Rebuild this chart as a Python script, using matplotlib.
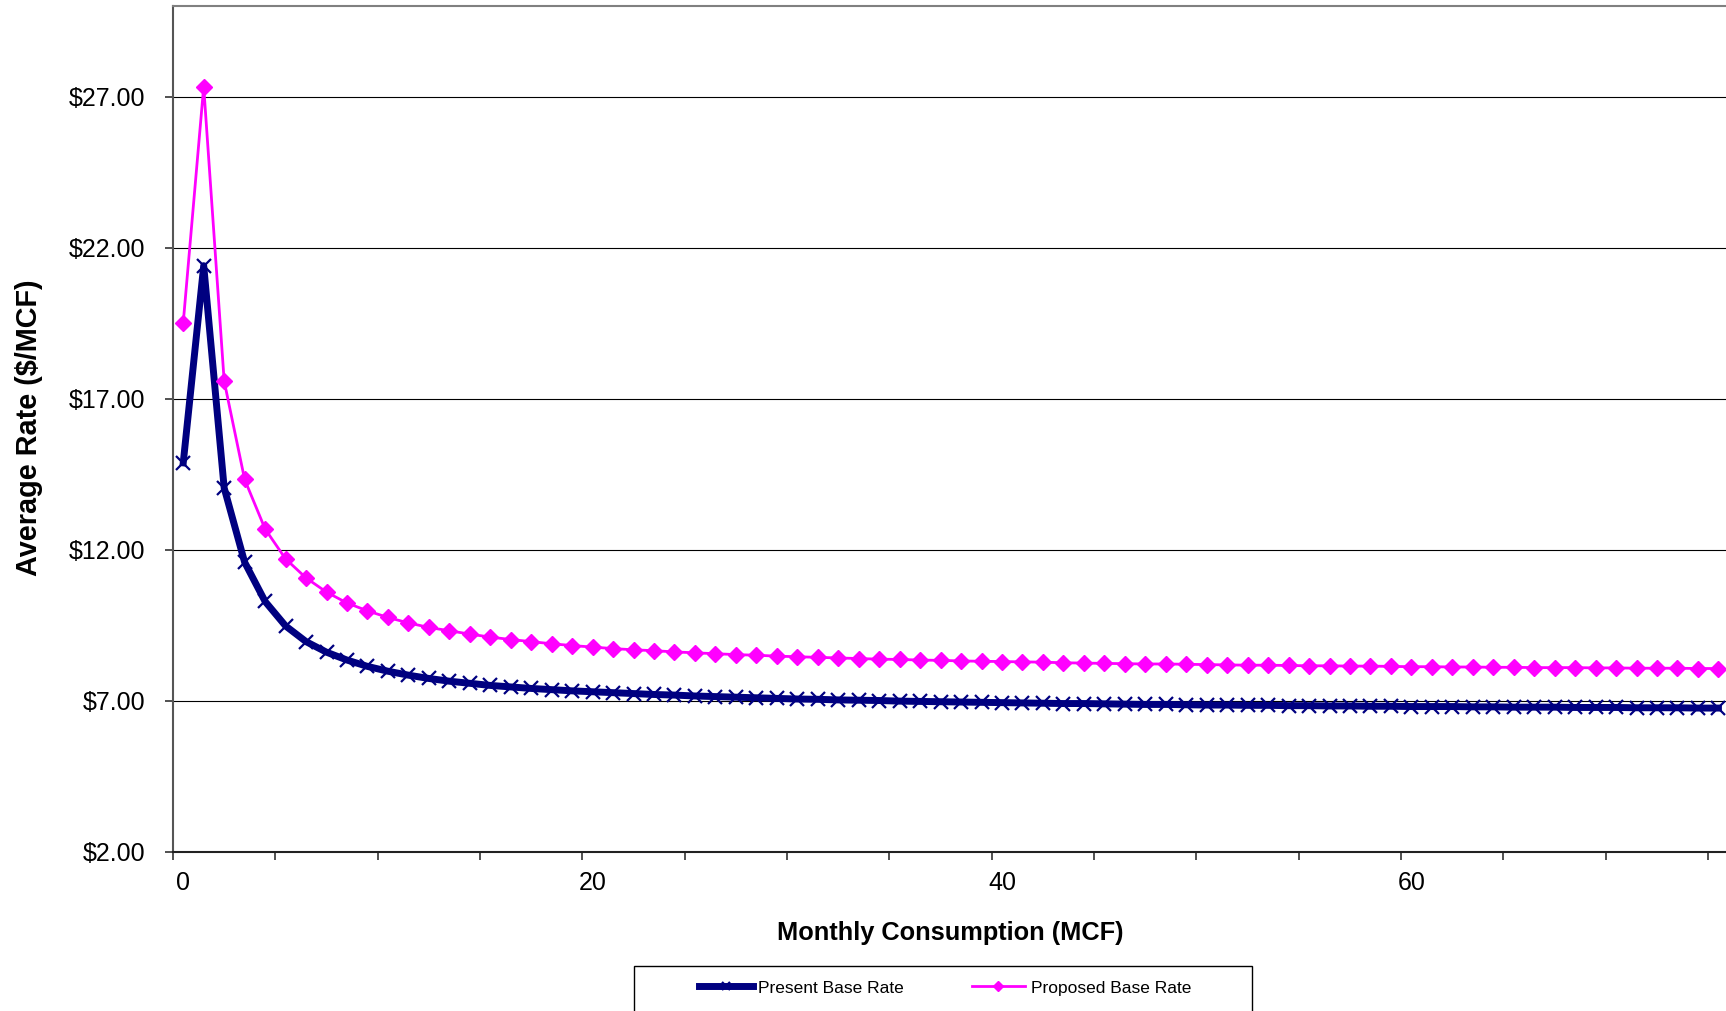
import numpy as np
import matplotlib
matplotlib.use('Agg')
import matplotlib.pyplot as plt
from matplotlib.patches import Rectangle

plt.rcParams['font.family'] = ['Liberation Sans', 'DejaVu Sans']

# monthly consumption categories (MCF), one point per MCF
consumption = np.arange(0, 76)

# average rate $/MCF
present_rate = [14.87, 21.40, 14.04, 11.58, 10.28, 9.47, 8.95, 8.60, 8.34, 8.13,
                7.97, 7.84, 7.73, 7.64, 7.57, 7.50, 7.45, 7.40, 7.36, 7.32,
                7.29, 7.26, 7.23, 7.20, 7.18, 7.15, 7.13, 7.11, 7.09, 7.07,
                7.05, 7.04, 7.02, 7.01, 7.00, 6.98, 6.97, 6.96, 6.95, 6.94,
                6.93, 6.92, 6.91, 6.90, 6.90, 6.89, 6.88, 6.87, 6.87, 6.86,
                6.85, 6.85, 6.84, 6.84, 6.83, 6.83, 6.82, 6.82, 6.81, 6.81,
                6.80, 6.80, 6.80, 6.79, 6.79, 6.78, 6.78, 6.78, 6.77, 6.77,
                6.77, 6.76, 6.76, 6.76, 6.75, 6.75]

proposed_rate = [19.51, 27.33, 17.58, 14.32, 12.68, 11.69, 11.06, 10.59, 10.23, 9.97,
                 9.75, 9.57, 9.42, 9.31, 9.20, 9.10, 9.02, 8.95, 8.88, 8.82,
                 8.77, 8.72, 8.68, 8.65, 8.61, 8.58, 8.55, 8.52, 8.50, 8.47,
                 8.45, 8.43, 8.41, 8.39, 8.37, 8.36, 8.34, 8.33, 8.31, 8.30,
                 8.29, 8.28, 8.27, 8.25, 8.24, 8.23, 8.22, 8.21, 8.21, 8.20,
                 8.19, 8.18, 8.17, 8.17, 8.16, 8.15, 8.15, 8.14, 8.14, 8.13,
                 8.12, 8.12, 8.11, 8.11, 8.10, 8.10, 8.09, 8.09, 8.09, 8.08,
                 8.08, 8.07, 8.07, 8.07, 8.06, 8.06]

x_labels = [0, 20, 40, 60]
y_ticks = [2, 7, 12, 17, 22, 27]

fig = plt.figure(figsize=(17.26, 10.11), dpi=100)
ax = fig.add_axes([173/1726, 1 - 851.5/1011, 1 - 173/1726, (851.5 - 6)/1011])

ax.plot(consumption, present_rate, color='#000080', lw=5, marker='x',
        ms=9.5, mew=1.6, label='Present Base Rate', zorder=3)
ax.plot(consumption, proposed_rate, color='#FF00FF', lw=2, marker='D',
        ms=8, label='Proposed Base Rate', zorder=4)

ax.set_xlim(-0.5, 75.37)
ax.set_ylim(2, 30)

# category style axis: labels on points, tick marks between groups of 5
ax.set_xticks(x_labels)
ax.set_xticks(np.arange(-0.5, 76, 5), minor=True)
ax.tick_params(axis='x', which='major', length=0, pad=14, labelsize=18)
ax.tick_params(axis='x', which='minor', length=6, width=1.2, direction='out', color='#333333')

ax.set_yticks(y_ticks)
ax.set_yticklabels(['$%.2f' % v for v in y_ticks])
ax.tick_params(axis='y', length=6, width=1.2, direction='out', pad=14, labelsize=18, color='#333333')

ax.grid(axis='y', color='black', lw=0.8)
ax.set_axisbelow(True)

ax.spines['right'].set_visible(False)
ax.spines['top'].set_color('#808080')
ax.spines['top'].set_linewidth(1.5)
ax.spines['left'].set_color('#555555')
ax.spines['left'].set_linewidth(1.5)
ax.spines['bottom'].set_color('#222222')
ax.spines['bottom'].set_linewidth(1.5)

fig.text(29/1726, 1 - 428/1011, 'Average Rate ($/MCF)', rotation=90,
         ha='center', va='center', fontsize=20.8, fontweight='bold')
fig.text(950/1726, 1 - 933/1011, 'Monthly Consumption (MCF)',
         ha='center', va='center', fontsize=18.3, fontweight='bold')

# legend box runs off the bottom of the picture
fig.patches.append(Rectangle((634/1726, 1 - 1045/1011), 618/1726, (1045 - 966)/1011,
                             transform=fig.transFigure, fill=False, ec='black',
                             lw=1, clip_on=False))
fig.legend(loc='center', bbox_to_anchor=(945/1726, 1 - 988/1011), ncol=2,
           frameon=False, fontsize=12.5, handlelength=3.1, handletextpad=0.3,
           columnspacing=3.9, numpoints=1, markerscale=0.6)

fig.savefig('out.png', dpi=100)
